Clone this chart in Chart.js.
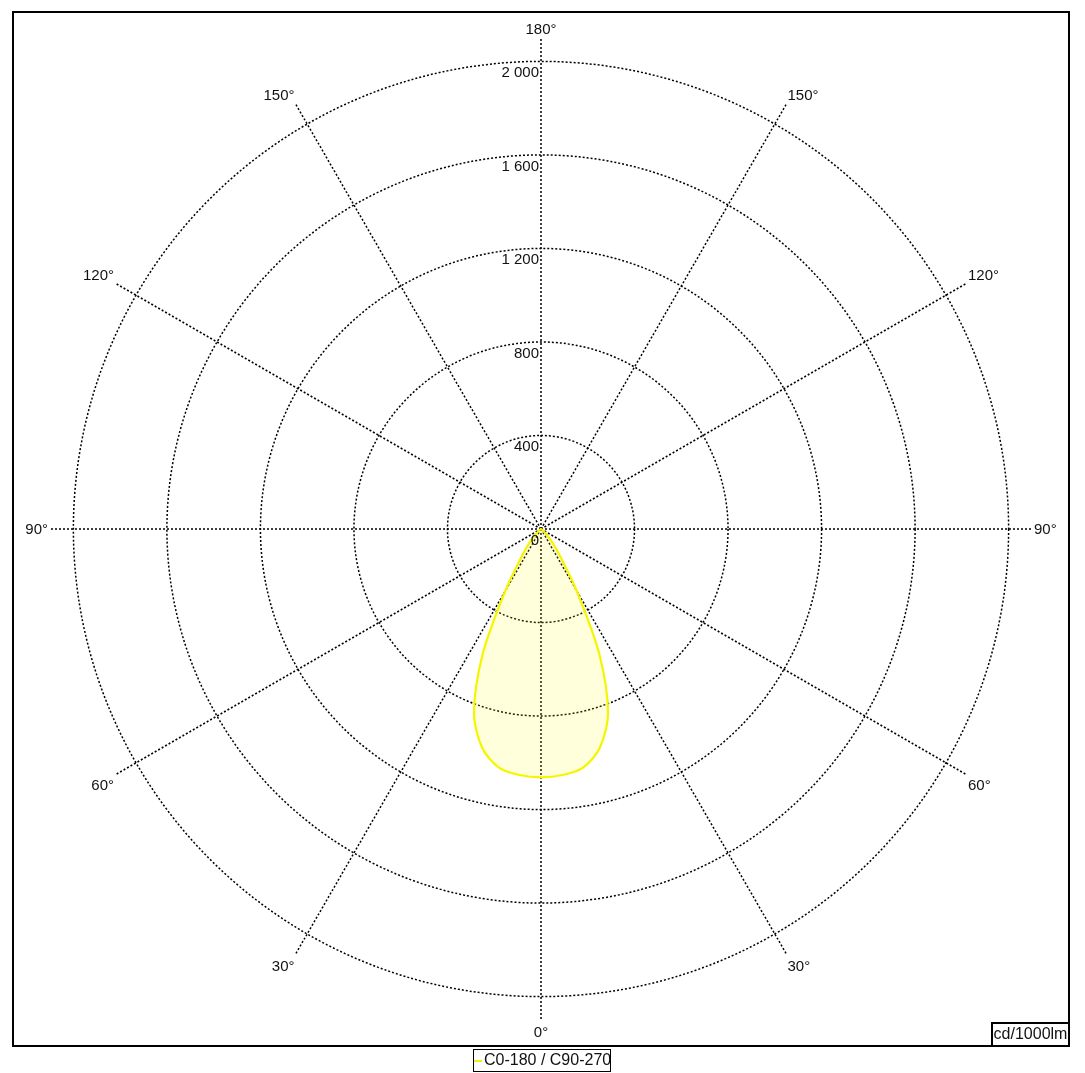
<!DOCTYPE html>
<html>
<head>
<meta charset="utf-8">
<title>Polar light distribution</title>
<script src="https://cdn.jsdelivr.net/npm/chart.js"></script>
<style>
    html, body { margin: 0; padding: 0; background: #fff; }
    #wrap { position: relative; width: 1085px; height: 1073px; }
</style>
</head>
<body>
<div id="wrap"><canvas id="polarCanvas"></canvas></div>
<script>
// gamma angles of the measurement, 0 = straight down, 180 = straight up
const gammaAngles = [0, 5, 10, 15, 20, 25, 30, 35, 40, 45, 50, 55, 60, 65, 70, 75, 80, 85, 90,
    95, 100, 105, 110, 115, 120, 125, 130, 135, 140, 145, 150, 155, 160, 165, 170, 175, 180];

// cd/1000lm, one value per gamma angle
const intensityC0 = [1062, 1056, 1036, 970, 838, 590, 305, 145, 75, 35, 14, 5, 0, 0, 0, 0, 0, 0, 0,
    0, 0, 0, 0, 0, 0, 0, 0, 0, 0, 0, 0, 0, 0, 0, 0, 0, 0];
const intensityC180 = [1062, 1056, 1036, 970, 838, 590, 305, 145, 75, 35, 14, 5, 0, 0, 0, 0, 0, 0, 0,
    0, 0, 0, 0, 0, 0, 0, 0, 0, 0, 0, 0, 0, 0, 0, 0, 0, 0];

const spokeAngles = [0, 30, 60, 90, 120, 150, 180];
const ringValues = [0, 400, 800, 1200, 1600, 2000];
const ringLabels = ['0', '400', '800', '1 200', '1 600', '2 000'];
const seriesName = 'C0-180 / C90-270';
const unitLabel = 'cd/1000lm';

const FONT = '"Liberation Sans", Arial, sans-serif';

let polarChart = null;

// left half goes 0 -> 180 clockwise from the bottom, right half comes back 175 -> 5
function buildLabels() {
    const labels = [];
    gammaAngles.forEach(g => labels.push(g));
    for (let i = gammaAngles.length - 2; i >= 1; i--) labels.push(gammaAngles[i]);
    return labels;
}

function buildData() {
    const data = intensityC0.slice();
    for (let i = intensityC180.length - 2; i >= 1; i--) data.push(intensityC180[i]);
    return data;
}

function indexForGamma(gamma, rightSide) {
    const step = gammaAngles[1] - gammaAngles[0];
    const n = (gammaAngles.length - 1) * 2;
    const i = Math.round(gamma / step);
    return rightSide ? (n - i) % n : i;
}

const decorPlugin = {
    id: 'decor',
    afterDraw(chart) {
        const ctx = chart.ctx;
        const r = chart.scales.r;
        const cx = r.xCenter, cy = r.yCenter;

        ctx.save();
        ctx.fillStyle = '#111';

        // spoke labels
        ctx.font = '15px ' + FONT;
        const seen = {};
        spokeAngles.forEach(g => {
            [false, true].forEach(right => {
                const idx = indexForGamma(g, right);
                if (seen[idx]) return;
                seen[idx] = true;
                const p = r.getPointPosition(idx, r.drawingArea + 2);
                const dx = p.x - cx, dy = p.y - cy;
                ctx.textAlign = Math.abs(dx) < 1 ? 'center' : (dx < 0 ? 'right' : 'left');
                ctx.textBaseline = Math.abs(dy) < 1 ? 'middle' : (dy < 0 ? 'bottom' : 'top');
                const shiftY = Math.abs(dy) < 1 ? 1 : (dy < 0 ? 1 : 3);
                ctx.fillText(g + '°', p.x, p.y + shiftY);
            });
        });

        // ring values along the vertical axis
        ctx.textAlign = 'right';
        ctx.textBaseline = 'top';
        ringValues.forEach((v, i) => {
            const y = cy - r.getDistanceFromCenterForValue(v);
            ctx.fillText(ringLabels[i], cx - 2, y + 4);
        });

        // outer frame
        ctx.strokeStyle = '#000';
        ctx.lineWidth = 2;
        ctx.strokeRect(13, 12, 1056, 1034);

        // unit box
        ctx.strokeRect(992, 1023, 77, 23);
        ctx.font = '16px ' + FONT;
        ctx.textAlign = 'center';
        ctx.textBaseline = 'middle';
        ctx.fillText(unitLabel, 1030.5, 1035);

        // legend
        ctx.lineWidth = 1;
        ctx.strokeRect(473.5, 1049.5, 137, 22);
        ctx.strokeStyle = '#f2f200';
        ctx.lineWidth = 2;
        ctx.beginPath();
        ctx.moveTo(474, 1061);
        ctx.lineTo(482, 1061);
        ctx.stroke();
        ctx.textAlign = 'left';
        ctx.fillText(seriesName, 484, 1061);

        ctx.restore();
    }
};

function render() {
    const ctx = document.getElementById('polarCanvas').getContext('2d');
    const spokeStep = (spokeAngles[1] - spokeAngles[0]) / (gammaAngles[1] - gammaAngles[0]);

    polarChart = new Chart(ctx, {
        type: 'radar',
        data: {
            labels: buildLabels(),
            datasets: [
                {
                    label: seriesName,
                    data: buildData(),
                    borderColor: '#f5f500',
                    backgroundColor: 'rgba(255,255,0,0.14)',
                    borderWidth: 2.2,
                    fill: true,
                    pointRadius: 0,
                    tension: 0.3,
                }
            ]
        },
        options: {
            responsive: true,
            maintainAspectRatio: false,
            animation: false,
            layout: { padding: { left: 50, top: 38, right: 53, bottom: 53 } },
            scales: {
                r: {
                    min: 0,
                    max: 2100,
                    startAngle: 180,
                    afterBuildTicks: s => { s.ticks = ringValues.map(v => ({ value: v })); },
                    ticks: { display: false },
                    pointLabels: { display: false },
                    grid: { circular: true, color: '#000', lineWidth: 1.5 },
                    border: { dash: [2, 2] },
                    angleLines: {
                        color: '#000',
                        lineWidth: c => (c.index % spokeStep === 0 ? 1.5 : 0),
                        borderDash: [2, 2],
                    }
                }
            },
            plugins: {
                legend: { display: false },
                tooltip: { enabled: false }
            }
        },
        plugins: [decorPlugin]
    });
}

render();
</script>
</body>
</html>
